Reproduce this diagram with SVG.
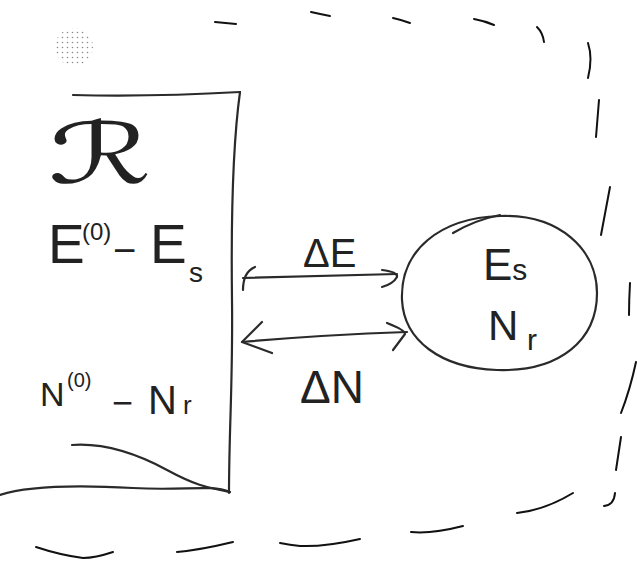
<svg xmlns="http://www.w3.org/2000/svg" width="637" height="562" viewBox="0 0 637 562">
  <style>
    .ink { fill: none; stroke: #2a2a2a; stroke-width: 2.2; stroke-linecap: round; stroke-linejoin: round; }
    .dash { fill: none; stroke: #111; stroke-width: 2; stroke-linecap: round; }
    .t { font-family: "Liberation Sans", "DejaVu Sans", sans-serif; fill: #222; }
    .s { font-family: "DejaVu Serif", "DejaVu Sans", serif; fill: #222; }
  </style>
  <defs>
    <pattern id="dots" width="5" height="5" patternUnits="userSpaceOnUse">
      <circle cx="2.5" cy="2.5" r="0.8" fill="#8a8a8a"/>
    </pattern>
  </defs>
  <rect width="637" height="562" fill="#fff"/>

  <circle cx="74" cy="47" r="19" fill="url(#dots)"/>

  <g id="boundary">
    <path class="dash" d="M215,22 L236,24"/>
    <path class="dash" d="M311,12 Q320,14 330,16"/>
    <path class="dash" d="M393,18 Q402,20 410,23"/>
    <path class="dash" d="M474,19 Q485,21 494,25"/>
    <path class="dash" d="M537,27 Q543,33 544,42"/>
    <path class="dash" d="M588,43 Q593,58 588,78"/>
    <path class="dash" d="M599,100 L596,137"/>
    <path class="dash" d="M610,187 L601,235"/>
    <path class="dash" d="M630,283 Q629,300 629,315"/>
    <path class="dash" d="M636,362 Q630,390 621,413"/>
    <path class="dash" d="M621,437 L616,470"/>
    <path class="dash" d="M615,493 Q614,505 604,506"/>
    <path class="dash" d="M573,493 Q545,510 517,513"/>
    <path class="dash" d="M463,526 Q432,534 411,532"/>
    <path class="dash" d="M360,539 Q325,547 300,546 Q290,545 280,543"/>
    <path class="dash" d="M233,542 Q200,550 177,552"/>
    <path class="dash" d="M113,552 Q95,558 83,558 Q60,555 36,547"/>
  </g>

  <g id="reservoir">
    <path class="ink" d="M73,95 Q150,97 240,92"/>
    <path class="ink" d="M240,92 C232,150 231,220 232,300 S229,430 229,493"/>
    <path class="ink" d="M0,495 C30,485 80,485 133,488 S210,484 230,492"/>
    <path class="ink" d="M72,445 C100,443 130,450 167,470 S215,488 229,492"/>
    <text class="s" x="0" y="0" font-size="84" transform="translate(48,183) scale(1.55,1)">ℛ</text>
    <text class="t" x="48" y="263" font-size="55">E</text>
    <text class="t" x="82" y="240" font-size="24">(0)</text>
    <text class="t" x="113" y="264" font-size="40">−</text>
    <text class="t" x="150" y="263" font-size="55">E</text>
    <text class="t" x="189" y="282" font-size="28">s</text>
    <text class="t" x="40" y="406" font-size="34">N</text>
    <text class="t" x="67" y="387" font-size="20">(0)</text>
    <text class="t" x="112" y="415" font-size="36">−</text>
    <text class="t" x="148" y="414" font-size="40">N</text>
    <text class="t" x="183" y="414" font-size="26">r</text>
  </g>

  <g id="system">
    <path class="ink" d="M402,300 C400,250 440,218 500,216 C560,214 597,250 597,293 C597,340 560,372 497,370 C440,368 404,340 402,300 Z"/>
    <path class="ink" d="M453,233 Q475,220 500,215"/>
    <text class="t" x="483" y="280" font-size="44">E<tspan font-size="30">s</tspan></text>
    <text class="t" x="488" y="340" font-size="42">N</text>
    <text class="t" x="527" y="350" font-size="30">r</text>
  </g>

  <g id="connectors">
    <g id="energy-exchange">
      <path class="ink" d="M243,278 L397,274"/>
      <path class="ink" d="M255,267 Q243,272 243,290"/>
      <path class="ink" d="M382,270 Q398,272 397,277 Q393,284 382,287"/>
      <text class="t" x="303" y="267" font-size="40">ΔE</text>
    </g>
    <g id="particle-exchange">
      <path class="ink" d="M242,342 Q320,335 407,332"/>
      <path class="ink" d="M262,322 L242,342 L272,353"/>
      <path class="ink" d="M387,323 Q405,330 405,334 L393,350"/>
      <text class="t" x="300" y="403" font-size="46">ΔN</text>
    </g>
  </g>
</svg>
